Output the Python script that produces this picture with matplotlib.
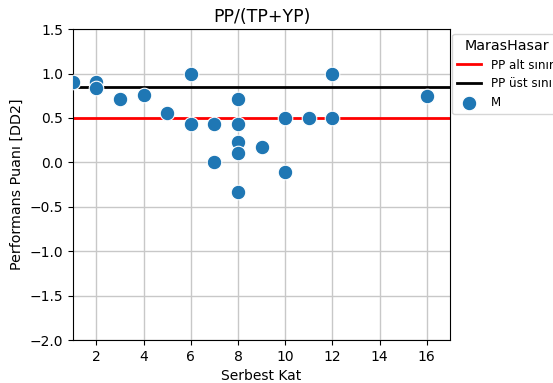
import matplotlib
matplotlib.use('Agg')
import matplotlib.pyplot as plt
import numpy as np

serbest_kat = [1, 2, 2, 3, 4, 5, 6, 6, 7, 7, 8, 8, 8, 8, 8, 9, 10, 10, 11, 12, 12, 16]
pp_values = [0.90, 0.90, 0.84, 0.71, 0.76, 0.56, 1.00, 0.43, 0.43, 0.00,
             0.71, 0.43, 0.23, 0.11, -0.33, 0.17, 0.50, -0.11, 0.50, 1.00, 0.50, 0.75]
pp_alt = 0.5
pp_ust = 0.85
xticks = [2, 4, 6, 8, 10, 12, 14, 16]
yticks = [-2.0, -1.5, -1.0, -0.5, 0.0, 0.5, 1.0, 1.5]

fig = plt.figure(figsize=(5.53, 3.83), dpi=100)
ax = fig.add_axes([0.1315, 0.112, 0.683, 0.812])

ax.axhline(pp_alt, color='red', linewidth=2, label='PP alt sınır')
ax.axhline(pp_ust, color='black', linewidth=2, label='PP üst sınır')
ax.scatter(serbest_kat, pp_values, s=110, color='#1f77b4', edgecolor='white',
           linewidth=0.8, label='M', zorder=3)

ax.set_xlim(1, 17)
ax.set_ylim(-2.0, 1.5)
ax.set_xticks(xticks)
ax.set_yticks(yticks)
ax.grid(True, color='#c8c8c8', linewidth=1)
ax.set_axisbelow(True)
ax.set_title('PP/(TP+YP)', fontsize=12.5, pad=5)
ax.set_xlabel('Serbest Kat', fontsize=10)
ax.set_ylabel('Performans Puanı [DD2]', fontsize=10.3)

ax.legend(title='MarasHasar', loc='upper left', bbox_to_anchor=(1.005, 0.985),
          borderaxespad=0, fontsize=8.6, title_fontsize=10.3)

fig.savefig('out.png', dpi=100)
